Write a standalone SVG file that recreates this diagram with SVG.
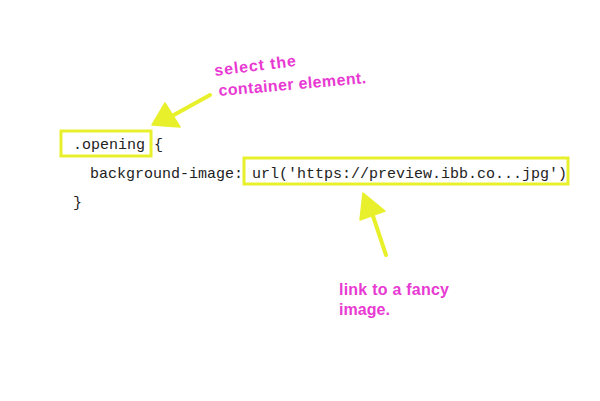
<svg xmlns="http://www.w3.org/2000/svg" width="600" height="401" viewBox="0 0 600 401">
<style>
.code{font-family:"Liberation Mono","DejaVu Sans Mono",monospace;font-size:15px;fill:#222}
.box{fill:none;stroke:#e8f02c;stroke-width:3}
.note{font-family:"Liberation Sans","DejaVu Sans",sans-serif;font-weight:bold;font-size:16px;fill:#e83ad2}
.arr{stroke:#e8f02c;stroke-width:4;fill:none;stroke-linecap:round}
.head{fill:#e8f02c;stroke:#e8f02c;stroke-width:1.5;stroke-linejoin:round}
</style>
<rect width="600" height="401" fill="#fff"/>
<g id="code">
<text class="code" x="73" y="149">.opening {</text>
<text class="code" x="90" y="178">background-image: url('https://preview.ibb.co...jpg')</text>
<text class="code" x="73" y="207">}</text>
</g>
<g id="selector-box"><rect class="box" x="61" y="131" width="90" height="25"/></g>
<g id="url-box"><rect class="box" x="244" y="158" width="324" height="26"/></g>
<g id="note-select">
<text class="note" x="215" y="76" transform="rotate(-7 215 76)" textLength="82">select the</text>
<text class="note" x="219" y="96" transform="rotate(-5 219 96)" textLength="148">container element.</text>
</g>
<g id="note-link">
<text class="note" x="339" y="295" textLength="110">link to a fancy</text>
<text class="note" x="339" y="315" textLength="51">image.</text>
</g>
<g id="connectors">
<line class="arr" x1="210" y1="95" x2="172" y2="116"/>
<polygon class="head" points="152,125 165,103 180,127"/>
<line class="arr" x1="386" y1="255" x2="372" y2="213"/>
<polygon class="head" points="363,193 360,220 385,211"/>
</g>
</svg>
